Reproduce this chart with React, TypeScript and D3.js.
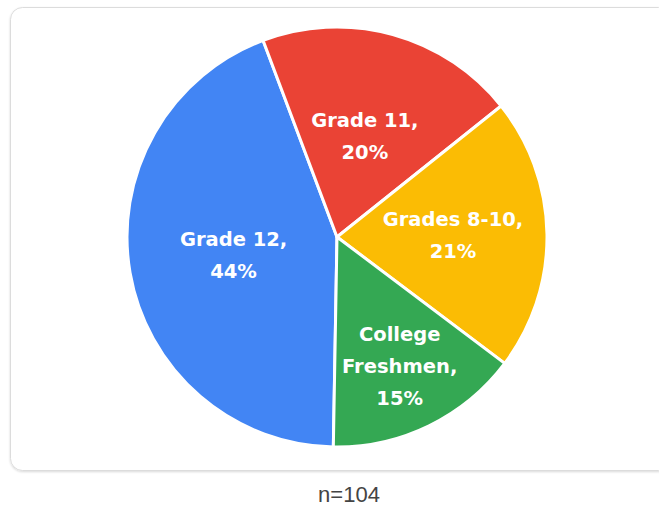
import React from "react";
import * as d3 from "d3";

// slices in drawing order (clockwise from the bottom)
const categories = ["Grade 12", "Grade 11", "Grades 8-10", "College Freshmen"];
const percents = [44, 20, 21, 15];
const colors = ["#4285F4", "#EA4335", "#FBBC04", "#34A853"];
// how each label breaks into lines
const labelLines = [
  ["Grade 12,", "44%"],
  ["Grade 11,", "20%"],
  ["Grades 8-10,", "21%"],
  ["College", "Freshmen,", "15%"],
];
const footnote = "n=104";

const W = 659;
const H = 509;
const LABEL_FONT = "bold 19.5px 'DejaVu Sans', sans-serif";
const LINE_H = 32;

let ctx: CanvasRenderingContext2D | null = null;
const textWidth = (s: string) => {
  if (!ctx) ctx = document.createElement("canvas").getContext("2d");
  if (!ctx) return s.length * 11;
  ctx.font = LABEL_FONT;
  return ctx.measureText(s).width;
};

// push a label outward along the slice's middle angle until every line fits inside the slice
const fitLabel = (a: d3.PieArcDatum<number>, lines: string[], r: number) => {
  const mid = (a.startAngle + a.endAngle) / 2;
  const span = a.endAngle - a.startAngle;
  const pad = 5;
  const boxH = 24;
  const widths = lines.map(textWidth);
  const inside = (x: number, y: number) => {
    const d = Math.hypot(x, y);
    if (d > r - pad) return false;
    const th = Math.atan2(x, -y);
    const rel = (((th - a.startAngle) % (2 * Math.PI)) + 2 * Math.PI) % (2 * Math.PI);
    if (rel > span) return false;
    const d1 = rel < Math.PI / 2 ? d * Math.sin(rel) : d;
    const d2 = span - rel < Math.PI / 2 ? d * Math.sin(span - rel) : d;
    return d1 >= pad && d2 >= pad;
  };
  for (let R = r * 0.5; R < r * 0.9; R += 1) {
    const x = R * Math.sin(mid);
    const y = -R * Math.cos(mid);
    const top = y - ((lines.length - 1) * LINE_H) / 2;
    const ok = widths.every((w, j) => {
      const ly = top + j * LINE_H;
      return (
        inside(x - w / 2, ly - boxH / 2) &&
        inside(x + w / 2, ly - boxH / 2) &&
        inside(x - w / 2, ly + boxH / 2) &&
        inside(x + w / 2, ly + boxH / 2)
      );
    });
    if (ok) return [x, y];
  }
  return [r * 0.6 * Math.sin(mid), -r * 0.6 * Math.cos(mid)];
};

export default function App() {
  const cx = 337;
  const cy = 237;
  const r = 210;

  const pie = d3
    .pie<number>()
    .sort(null)
    .value((d) => d)
    .startAngle((181 * Math.PI) / 180)
    .endAngle((181 * Math.PI) / 180 + 2 * Math.PI);

  const arcs = pie(percents);
  const arc = d3.arc<d3.PieArcDatum<number>>().innerRadius(0).outerRadius(r);

  return (
    <svg
      width={W}
      height={H}
      style={{ position: "absolute", left: 0, top: 0 }}
    >
      <defs>
        <filter id="shadow" x="-5%" y="-5%" width="110%" height="110%">
          <feDropShadow dx="0" dy="1" stdDeviation="1" floodColor="#000" floodOpacity="0.15" />
        </filter>
      </defs>
      <rect
        x={10.5}
        y={7.5}
        width={660}
        height={463}
        rx={12}
        fill="#fff"
        stroke="#dcdcdc"
        strokeWidth={1}
        filter="url(#shadow)"
      />
      <g transform={`translate(${cx},${cy})`}>
        {arcs.map((a, i) => (
          <path
            key={categories[i]}
            d={arc(a) || ""}
            fill={colors[i]}
            stroke="#fff"
            strokeWidth={3}
            strokeLinejoin="round"
          />
        ))}
        {arcs.map((a, i) => {
          const lines = labelLines[i];
          const [lx, ly] = fitLabel(a, lines, r);
          const top = ly - ((lines.length - 1) * LINE_H) / 2;
          return (
            <text
              key={categories[i] + "-label"}
              textAnchor="middle"
              fill="#fff"
              fontFamily="'DejaVu Sans', sans-serif"
              fontWeight="bold"
              fontSize={19.5}
            >
              {lines.map((t, j) => (
                <tspan key={j} x={lx} y={top + j * LINE_H} dy="0.36em">
                  {t}
                </tspan>
              ))}
            </text>
          );
        })}
      </g>
      <text
        x={cx + 12}
        y={502}
        textAnchor="middle"
        fill="#444"
        fontFamily="'Liberation Sans', Arial, sans-serif"
        fontSize={22}
      >
        {footnote}
      </text>
    </svg>
  );
}
